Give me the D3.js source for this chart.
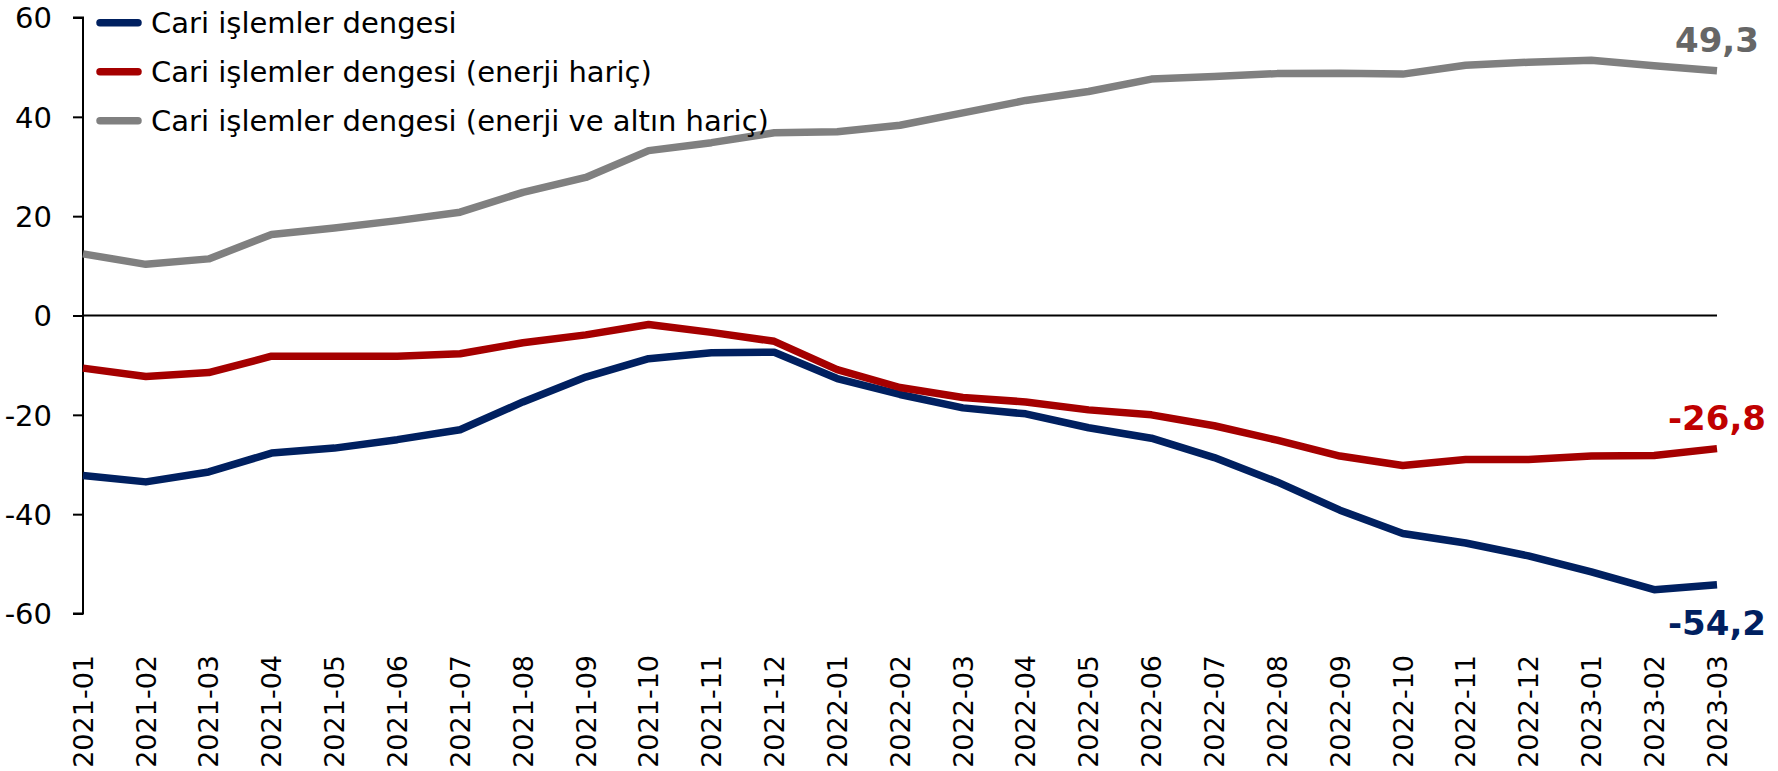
<!DOCTYPE html>
<html>
<head>
<meta charset="utf-8">
<script src="https://cdn.jsdelivr.net/npm/d3@7"></script>
<style>
  body { margin: 0; background: #fff; }
  svg { display: block; font-family: "DejaVu Sans", Verdana, sans-serif; }
</style>
</head>
<body>
<svg id="chart" width="1778" height="771"></svg>
<script>
// months on the x axis
var months = ["2021-01","2021-02","2021-03","2021-04","2021-05","2021-06","2021-07","2021-08","2021-09",
  "2021-10","2021-11","2021-12","2022-01","2022-02","2022-03","2022-04","2022-05","2022-06","2022-07",
  "2022-08","2022-09","2022-10","2022-11","2022-12","2023-01","2023-02","2023-03"];

// series (billion USD, 12-month cumulative)
var cari = [-32.2, -33.5, -31.5, -27.7, -26.7, -25.0, -23.0, -17.4, -12.4, -8.7, -7.5, -7.4,
  -12.7, -15.9, -18.6, -19.8, -22.6, -24.7, -28.6, -33.5, -39.2, -43.9, -45.8, -48.4, -51.6, -55.2, -54.2];
var enerjiHaric = [-10.6, -12.3, -11.5, -8.2, -8.2, -8.2, -7.7, -5.5, -3.9, -1.8, -3.4, -5.2,
  -10.9, -14.5, -16.5, -17.4, -19.0, -20.0, -22.2, -25.1, -28.3, -30.2, -29.0, -29.0, -28.3, -28.2, -26.8];
var enerjiAltinHaric = [12.4, 10.3, 11.4, 16.3, 17.6, 19.1, 20.8, 24.8, 27.8, 33.2, 34.8, 36.8,
  37.0, 38.3, 40.8, 43.3, 45.1, 47.6, 48.1, 48.7, 48.8, 48.6, 50.4, 51.0, 51.4, 50.3, 49.3];

var seriesNames = ["Cari işlemler dengesi", "Cari işlemler dengesi (enerji hariç)",
  "Cari işlemler dengesi (enerji ve altın hariç)"];
var yTicks = [-60, -40, -20, 0, 20, 40, 60];

var lineColors = ["#002060", "#a50000", "#808080"];
var labelColors = ["#002060", "#c00000", "#666666"];

var svg = d3.select("#chart");

var x = d3.scalePoint().domain(months).range([83, 1717]);
var y = d3.scaleLinear().domain([-60, 60]).range([613.5, 17.5]);

// y axis
var yAxis = svg.append("g")
  .attr("transform", "translate(83,0)")
  .call(d3.axisLeft(y).tickValues(yTicks).tickSize(10).tickPadding(21).tickFormat(d3.format("d")));
yAxis.select(".domain").attr("stroke", "#000").attr("stroke-width", 2).attr("d", "M-10," + y(60) + "H0V" + y(-60) + "H-10");
yAxis.selectAll(".tick line").attr("stroke", "#000").attr("stroke-width", 2);
yAxis.selectAll(".tick text").attr("font-size", 29).attr("fill", "#000")
  .attr("font-family", "'DejaVu Sans', Verdana, sans-serif").attr("dy", "0.36em")
  .text(function(d) { return d < 0 ? "-" + Math.abs(d) : d; });

// zero line
svg.append("line")
  .attr("x1", x.range()[0]).attr("x2", x.range()[1])
  .attr("y1", y(0)).attr("y2", y(0))
  .attr("stroke", "#000").attr("stroke-width", 2);

// x labels (rotated)
svg.append("g").selectAll("text")
  .data(months)
  .enter()
  .append("text")
  .attr("transform", function(d) { return "translate(" + x(d) + ",655) rotate(-90)"; })
  .attr("text-anchor", "end")
  .attr("dy", "0.36em")
  .attr("font-size", 27)
  .attr("fill", "#000")
  .text(function(d) { return d; });

// lines
var allSeries = [cari, enerjiHaric, enerjiAltinHaric];
var line = d3.line()
  .x(function(d, i) { return x(months[i]); })
  .y(function(d) { return y(d); });

allSeries.forEach(function(s, k) {
  svg.append("path")
    .datum(s)
    .attr("d", line)
    .attr("fill", "none")
    .attr("stroke", lineColors[k])
    .attr("stroke-width", 7.5)
    .attr("stroke-linejoin", "round");
});

// end labels
var last = months.length - 1;
var labelOffsets = [50, -19, -19];
allSeries.forEach(function(s, k) {
  svg.append("text")
    .attr("x", x(months[last]))
    .attr("y", y(s[last]) + labelOffsets[k])
    .attr("text-anchor", "middle")
    .attr("font-size", 34)
    .attr("font-weight", "bold")
    .attr("fill", labelColors[k])
    .text(d3.format(".1f")(s[last]).replace(".", ",").replace("−", "-"));
});

// legend
var legend = svg.append("g").selectAll("g")
  .data(seriesNames)
  .enter()
  .append("g")
  .attr("transform", function(d, i) { return "translate(0," + (22.7 + i * 49) + ")"; });

legend.append("line")
  .attr("x1", 100).attr("x2", 138)
  .attr("stroke", function(d, i) { return lineColors[i]; })
  .attr("stroke-width", 7.5)
  .attr("stroke-linecap", "round");

legend.append("text")
  .attr("x", 151)
  .attr("dy", "0.36em")
  .attr("font-size", 29)
  .attr("fill", "#000")
  .text(function(d) { return d; });
</script>
</body>
</html>
